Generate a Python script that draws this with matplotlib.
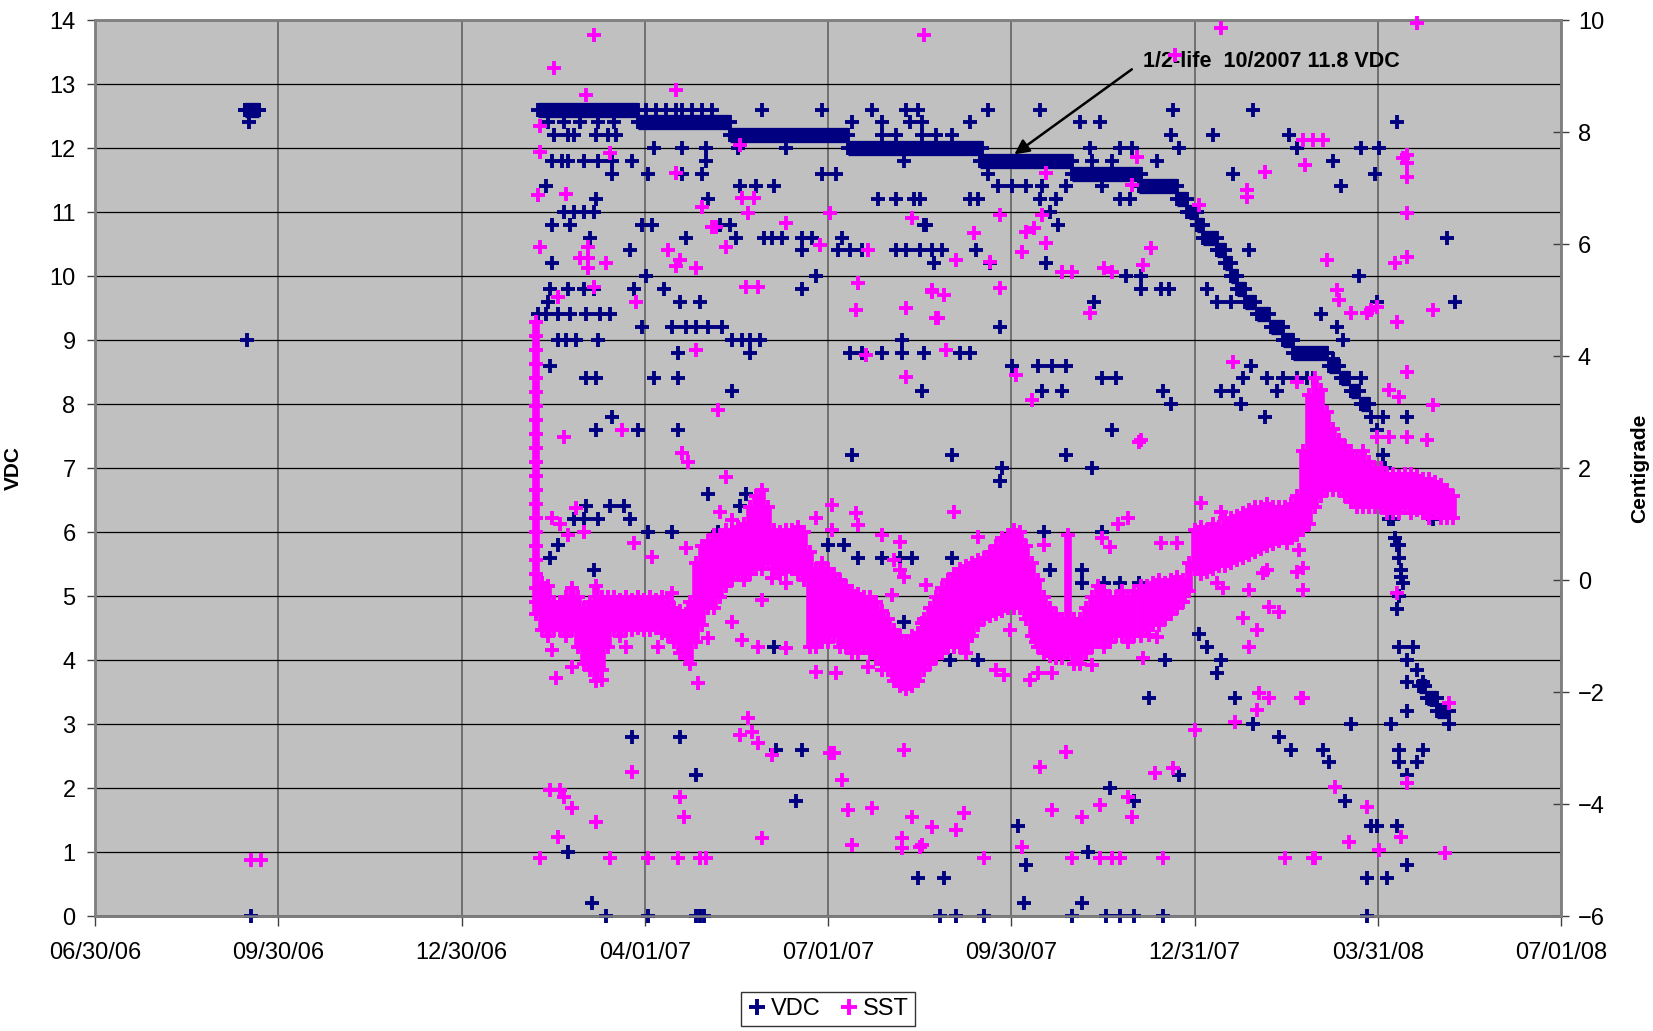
import numpy as np
import matplotlib.pyplot as plt
from matplotlib.lines import Line2D

plt.rcParams['font.family'] = ['Liberation Sans', 'DejaVu Sans']

# x values are days since 06/30/06
tick_days = [0, 91.5, 183, 274.5, 366, 457.5, 549, 640.5, 732]
tick_labels = ['06/30/06', '09/30/06', '12/30/06', '04/01/07', '07/01/07',
               '09/30/07', '12/31/07', '03/31/08', '07/01/08']

# long steady VDC stretches (dense hourly readings): start day, end day, volts
run_start = [75, 221, 271, 317, 376, 442, 488, 521, 540, 546, 550, 553, 560, 564,
             567, 570, 574, 580, 587, 593, 598, 616, 622, 627, 632, 661, 665, 670]
run_end = [82, 271, 317, 376, 443, 488, 522, 540, 545, 550, 553, 560, 564, 567,
           570, 574, 579, 586, 593, 598, 615, 621, 626, 631, 636, 664, 670, 676]
run_vdc = [12.6, 12.6, 12.4, 12.2, 12.0, 11.8, 11.6, 11.4, 11.2, 11.0, 10.8, 10.6, 10.4, 10.2,
           10.0, 9.8, 9.6, 9.4, 9.2, 9.0, 8.8, 8.6, 8.4, 8.2, 8.0, 3.6, 3.4, 3.2]

# scattered VDC readings, grouped by voltage level
vdc_levels = [12.6, 12.4, 12.2, 12.0, 11.8, 11.6, 11.4, 11.2, 11.0, 10.8, 10.6, 10.4,
              10.2, 10.0, 9.8, 9.6, 9.4, 9.2, 9.0, 8.8, 8.6, 8.4, 8.2, 8.0, 7.8, 7.6,
              7.2, 7.0, 6.8, 6.6, 6.4, 6.2, 6.0, 5.8, 5.6, 5.4, 5.2, 4.6, 4.2, 4.0,
              3.4, 3.0, 2.8, 2.6, 2.4, 2.2, 2.0, 1.8, 1.4, 1.0, 0.8, 0.6, 0.2, 0.0]
vdc_level_days = [
    [75, 82, 275, 280, 285, 290, 293, 298, 303, 308, 333, 363, 388, 405, 411, 446, 472, 538, 578],
    [77, 226, 234, 242, 251, 259, 378, 393, 407, 413, 437, 492, 502, 650],
    [229, 236, 239, 250, 256, 260, 393, 400, 413, 420, 428, 537, 558, 596],
    [279, 293, 305, 321, 345, 497, 512, 518, 541, 600, 632, 641],
    [228, 233, 236, 244, 251, 258, 268, 305, 404, 498, 508, 530, 618],
    [258, 276, 293, 303, 363, 370, 446, 568, 639],
    [225, 322, 330, 339, 451, 458, 465, 473, 485, 503, 622],
    [250, 306, 391, 400, 409, 412, 437, 441, 472, 480, 512, 517],
    [234, 239, 244, 249, 477, 545],
    [228, 237, 273, 278, 312, 317, 414, 415, 481, 550],
    [247, 295, 320, 334, 338, 343, 353, 358, 373, 555, 675],
    [267, 353, 371, 377, 383, 400, 405, 412, 418, 423, 440, 560, 576],
    [228, 419, 447, 475, 565],
    [275, 360, 515, 522, 568, 631],
    [227, 236, 244, 249, 269, 284, 353, 522, 532, 536, 555, 572],
    [226, 292, 302, 499, 560, 567, 575, 640, 679],
    [221, 225, 231, 237, 245, 252, 257, 582, 612],
    [273, 288, 295, 300, 306, 313, 452, 590, 620],
    [76, 231, 235, 240, 251, 318, 323, 327, 332, 403, 595, 623],
    [291, 327, 377, 383, 393, 403, 414, 432, 437],
    [227, 458, 471, 478, 485, 577, 618, 620],
    [245, 250, 279, 291, 503, 510, 573, 585, 593, 600, 605, 608, 623, 632],
    [318, 413, 473, 483, 533, 562, 568, 590, 627],
    [537, 572, 608, 632],
    [258, 584, 637, 643, 655],
    [250, 271, 291, 508, 640],
    [378, 428, 485, 643],
    [453, 498],
    [452, 644],
    [306, 325, 646],
    [245, 257, 264, 322, 645],
    [239, 244, 251, 267, 648, 668],
    [276, 288, 311, 474, 503],
    [231, 366, 374, 650],
    [227, 381, 393, 402, 408, 428, 651],
    [249, 477, 493, 652],
    [493, 504, 512, 521, 653],
    [404],
    [339, 555, 651, 658],
    [427, 441, 534, 562, 655],
    [526, 569, 667],
    [578, 627, 647, 676],
    [268, 292, 591],
    [340, 353, 597, 613, 651, 663],
    [616, 651, 660],
    [300, 541, 655],
    [507],
    [350, 519, 624],
    [461, 637, 640, 650],
    [236, 496],
    [465, 655],
    [411, 424, 635, 645],
    [248, 464, 493],
    [78, 255, 276, 300, 302, 304, 422, 430, 444, 488, 505, 512, 519, 533, 635],
]
# readings off the 0.2 V levels (steep fall in spring 2008)
vdc_extra = [(551, 4.4), (560, 3.8), (651, 5.0), (650, 4.8), (660, 3.85), (663, 3.65),
             (670, 3.3), (673, 3.2), (655, 3.65), (655, 3.2), (651, 5.8), (618, 8.7),
             (644, 7.0), (646, 6.2), (649, 5.9), (652, 5.3)]

# dense SST record: day, lower and upper edge of the reading band (Centigrade)
band_day = [220, 223, 226, 229, 232, 235, 238, 241, 244, 247, 250, 253, 256, 259, 262, 265,
            268, 271, 274, 277, 280, 283, 286, 289, 292, 295, 297, 300, 303, 306, 309, 312,
            315, 318, 321, 324, 327, 330, 333, 336, 339, 342, 345, 348, 351, 354, 357, 360,
            363, 366, 369, 372, 375, 378, 381, 384, 387, 390, 393, 396, 399, 402, 405, 408,
            411, 414, 417, 420, 423, 426, 429, 432, 435, 438, 441, 444, 447, 450, 453, 456,
            459, 462, 465, 468, 471, 474, 477, 480, 483, 486, 489, 492, 495, 498, 501, 504,
            507, 510, 513, 516, 519, 522, 525, 528, 531, 534, 537, 540, 543, 546, 549, 552,
            555, 558, 561, 564, 567, 570, 573, 576, 579, 582, 585, 588, 591, 594, 597, 600,
            603, 606, 609, 612, 615, 618, 621, 624, 627, 630, 633, 636, 639, 642, 645, 648,
            651, 654, 657, 660, 663, 666, 669, 672, 675, 678]
band_lo = [-0.6, -0.9, -1.0, -0.9, -0.9, -1.0, -0.9, -1.2, -1.5, -1.6, -1.8, -1.6, -1.2, -0.9, -1.0, -0.9,
           -0.9, -0.85, -0.9, -0.9, -0.85, -0.95, -1.0, -1.1, -1.3, -1.4, -1.5, -1.1, -0.8, -0.5, -0.5, -0.3,
           -0.1, 0.0, 0.1, 0.0, 0.1, 0.2, 0.2, 0.3, 0.2, 0.1, 0.15, 0.2, 0.1, 0.0, -1.2, -1.2,
           -1.1, -1.1, -1.0, -1.2, -1.2, -1.3, -1.3, -1.2, -1.3, -1.4, -1.5, -1.6, -1.8, -1.9, -1.95, -1.9,
           -1.8, -1.6, -1.5, -1.4, -1.3, -1.2, -1.2, -1.2, -1.3, -1.0, -0.8, -0.7, -0.65, -0.6, -0.55, -0.5,
           -0.5, -0.5, -0.7, -1.0, -1.2, -1.3, -1.35, -1.4, -1.4, -1.3, -1.5, -1.5, -1.3, -1.2, -1.1, -1.2,
           -1.1, -1.0, -1.0, -1.1, -1.0, -1.0, -0.9, -0.8, -0.8, -0.7, -0.6, -0.5, -0.4, -0.2, 0.2, 0.1,
           0.15, 0.2, 0.25, 0.25, 0.3, 0.35, 0.4, 0.45, 0.5, 0.55, 0.6, 0.65, 0.7, 0.75, 0.8, 0.8,
           0.9, 1.0, 1.3, 1.5, 1.6, 1.6, 1.6, 1.5, 1.4, 1.3, 1.3, 1.3, 1.3, 1.3, 1.2, 1.2,
           1.2, 1.3, 1.2, 1.25, 1.2, 1.1, 1.2, 1.1, 1.1, 1.1]
band_hi = [4.6, -0.05, -0.1, -0.4, -0.4, -0.3, -0.15, -0.3, -0.5, -0.4, -0.1, -0.3, -0.3, -0.3, -0.35, -0.3,
           -0.35, -0.3, -0.35, -0.3, -0.35, -0.3, -0.4, -0.5, -0.55, -0.6, -0.4, 0.3, 0.6, 0.7, 0.8, 0.8,
           0.9, 0.9, 0.95, 1.0, 1.3, 1.5, 1.6, 1.3, 0.9, 0.85, 0.9, 0.9, 0.95, 0.85, 0.5, 0.2,
           0.3, 0.2, 0.1, 0.0, -0.1, -0.2, -0.25, -0.3, -0.3, -0.4, -0.55, -0.7, -0.9, -1.0, -1.1, -1.0,
           -0.95, -0.7, -0.5, -0.3, -0.15, 0.0, 0.1, 0.2, 0.25, 0.3, 0.35, 0.4, 0.5, 0.6, 0.75, 0.8,
           0.9, 0.85, 0.6, 0.3, 0.0, -0.3, -0.5, -0.6, -0.7, 0.8, -0.7, -0.7, -0.5, -0.3, -0.1, -0.2,
           -0.3, -0.3, -0.2, -0.3, -0.2, -0.1, -0.1, -0.05, 0.0, -0.05, 0.0, 0.05, 0.0, 0.3, 0.9, 0.95,
           0.9, 1.0, 0.95, 1.1, 1.1, 1.15, 1.2, 1.25, 1.3, 1.3, 1.35, 1.3, 1.3, 1.3, 1.35, 1.5,
           2.3, 3.3, 3.6, 3.4, 3.0, 2.7, 2.5, 2.4, 2.3, 2.2, 2.3, 2.1, 2.0, 2.0, 1.9, 1.9,
           1.85, 1.9, 1.9, 1.85, 1.8, 1.8, 1.75, 1.7, 1.6, 1.5]

# stacked SST readings in the first days after deployment (Centigrade, day 220)
start_column = [4.6, 4.35, 4.1, 3.85, 3.6, 3.35, 3.1, 2.85, 2.6, 2.35, 2.1, 1.85,
                1.6, 1.35, 1.1, 0.85, 0.6, 0.35, 0.1, -0.15, -0.4]

# scattered SST readings: (day, Centigrade)
sst_pts = [
    (78, -5.0), (83, -5.0),
    (229, 9.14), (245, 8.66), (290, 8.75), (249, 9.74), (222, 8.1), (222, 7.64), (257, 7.62),
    (290, 7.27), (322, 7.77), (221, 6.87), (235, 6.9), (303, 6.66), (323, 6.82), (329, 6.82),
    (326, 6.55), (308, 6.3), (310, 6.3), (345, 6.37), (367, 6.55), (408, 6.46), (222, 5.95),
    (246, 5.95), (246, 5.75), (246, 5.57), (242, 5.75), (255, 5.66), (286, 5.89), (292, 5.71),
    (290, 5.6), (300, 5.57), (315, 5.95), (362, 5.98), (386, 5.89), (249, 5.23), (231, 5.05),
    (270, 4.96), (325, 5.23), (331, 5.23), (381, 5.3), (380, 4.82), (405, 4.86), (418, 5.14),
    (420, 4.68), (300, 4.11), (385, 4.02), (405, 3.63), (311, 3.04), (234, 2.55), (263, 2.68),
    (293, 2.27), (296, 2.11), (315, 1.84), (414, 9.74),
    (240, 1.29), (228, 1.1), (232, 1.0), (312, 1.21), (318, 1.07), (327, 1.3), (269, 0.66),
    (295, 0.57), (278, 0.41), (236, 0.8), (244, 0.86), (288, -0.23), (368, 1.34), (360, 1.1),
    (368, 0.89), (380, 1.2), (381, 0.98), (393, 0.8), (402, 0.68), (399, 0.36), (402, 0.18),
    (404, 0.05), (415, -0.09), (398, -0.27), (413, -0.77), (338, 0.04), (345, -0.05),
    (333, -0.36), (318, -0.75), (323, -1.07), (331, -1.2), (345, -1.21), (306, -1.04),
    (265, -1.2), (281, -1.2), (301, -1.84), (230, -1.75), (253, -1.79), (238, -1.55),
    (228, -1.25), (360, -1.64), (370, -1.66), (386, -1.55), (393, -1.6), (400, -1.7),
    (326, -2.46), (328, -2.71), (322, -2.77), (331, -2.91), (338, -3.13), (367, -3.09),
    (369, -3.09), (373, -3.57), (376, -4.11), (388, -4.07), (408, -4.23), (404, -3.04),
    (418, -4.41), (403, -4.6), (412, -4.77), (403, -4.79), (378, -4.73), (268, -3.43),
    (227, -3.75), (232, -3.75), (234, -3.88), (238, -4.07), (250, -4.32), (292, -3.88),
    (294, -4.23), (231, -4.59), (333, -4.61), (222, -4.96), (257, -4.96), (276, -4.96),
    (291, -4.96), (302, -4.96), (305, -4.96),
    (521, 2.46), (429, 1.21), (516, 1.1), (511, 1.0), (441, 0.77), (454, 0.71), (462, 0.86),
    (462, 0.71), (474, 0.62), (503, 0.75), (507, 0.59), (552, 1.38), (562, 1.21), (532, 0.66),
    (540, 0.66), (598, 0.8), (595, 0.66), (601, 0.54), (603, 0.21), (600, 0.14), (603, -0.18),
    (585, 0.18), (583, 0.12), (576, -0.18), (586, -0.48), (591, -0.57), (560, -0.05),
    (563, -0.14), (573, -0.68), (580, -0.89), (576, -1.2), (457, -0.89), (470, -1.1),
    (526, -0.98), (530, -1.02), (523, -1.39), (498, -1.52), (450, -1.6), (454, -1.7),
    (467, -1.79), (471, -1.66), (478, -1.66), (581, -2.02), (586, -2.11), (602, -2.11),
    (580, -2.32), (569, -2.54), (549, -2.68), (485, -3.07), (472, -3.34), (529, -3.45),
    (538, -3.36), (502, -4.02), (493, -4.23), (478, -4.11), (516, -3.88), (518, -4.23),
    (434, -4.16), (430, -4.46), (413, -4.73), (463, -4.77), (444, -4.96), (488, -4.96),
    (502, -4.96), (508, -4.96), (512, -4.96), (533, -4.96), (594, -4.96), (608, -4.96),
    (452, 6.52), (439, 6.2), (430, 5.71), (447, 5.68), (452, 5.21), (418, 5.18), (424, 5.09),
    (421, 4.68), (425, 4.11), (465, 6.21), (469, 6.29), (473, 6.52), (475, 6.02), (463, 5.86),
    (483, 5.5), (488, 5.5), (475, 7.27), (460, 3.66), (468, 3.21), (497, 4.77), (504, 5.57),
    (508, 5.5), (523, 5.63), (527, 5.93), (520, 7.55), (518, 7.05), (551, 6.7), (522, 2.5),
    (568, 3.89), (575, 6.96), (575, 6.84), (584, 7.29), (604, 7.41), (615, 5.71), (600, 3.54),
    (539, 9.38), (562, 9.85), (660, 9.94),
    (603, 7.86), (608, 7.86), (613, 7.86), (655, 7.59), (655, 7.45), (655, 7.2), (655, 6.55),
    (649, 5.66), (655, 5.77), (620, 5.18), (621, 5.0), (627, 4.77), (635, 4.77), (637, 4.82),
    (640, 4.88), (650, 4.61), (668, 4.82), (655, 3.71), (646, 3.39), (651, 3.27), (668, 3.13),
    (665, 2.5), (655, 2.55), (640, 2.55), (646, 2.55), (650, -0.23), (676, -2.2),
    (655, -3.63), (619, -3.7), (635, -4.05), (652, -4.59), (626, -4.68), (641, -4.82),
    (674, -4.88), (609, -4.96), (603, -2.11), (653, 7.53),
]

navy = '#000080'
magenta = '#FF00FF'
mk = dict(ls='none', marker='+', ms=10, mew=2.8, clip_on=False, zorder=3)

fig = plt.figure(figsize=(16.53, 10.31), dpi=100)
ax = fig.add_axes([0.0575, 0.1115, 0.8869, 0.8691])
ax.set_facecolor('#C0C0C0')
ax2 = ax.twinx()

# VDC
ax.hlines(run_vdc, run_start, run_end, color=navy, lw=11, zorder=3)
ax.plot(run_start + run_end, run_vdc + run_vdc, color=navy, **mk)
vdc_day = []
vdc_val = []
for lev, days in zip(vdc_levels, vdc_level_days):
    vdc_day += days
    vdc_val += [lev] * len(days)
for d, v in vdc_extra:
    vdc_day.append(d)
    vdc_val.append(v)
ax.plot(vdc_day, vdc_val, color=navy, **mk)

# SST
ax2.vlines(band_day, band_lo, band_hi, color=magenta, lw=5.5, zorder=3)
ax2.plot(band_day + band_day, band_lo + band_hi, color=magenta, **mk)
ax2.plot([220] * len(start_column), start_column, color=magenta, **mk)
sst_day = [p[0] for p in sst_pts]
sst_val = [p[1] for p in sst_pts]
ax2.plot(sst_day, sst_val, color=magenta, **mk)

ax.set_xlim(0, 732)
ax.set_ylim(0, 14)
ax2.set_ylim(-6, 10)
ax.set_xticks(tick_days)
ax.set_xticklabels(tick_labels)
ax.set_yticks(range(0, 15))
ax2.set_yticks(range(-6, 11, 2))

ax.set_axisbelow(True)
ax.yaxis.grid(True, color='black', lw=0.9)
ax.xaxis.grid(True, color='#6a6a6a', lw=1.3)

for a in (ax, ax2):
    for s in a.spines.values():
        s.set_color('#808080')
        s.set_linewidth(1.8)
ax.spines['bottom'].set_color('#404040')

ax.tick_params(axis='y', direction='out', length=6, width=1, color='#404040',
               labelsize=17, pad=8)
ax.tick_params(axis='x', direction='out', length=7, width=1, color='#404040',
               labelsize=17, pad=12)
ax2.tick_params(axis='y', direction='inout', length=12, width=1, color='#404040',
                labelsize=17, pad=6)

ax.set_ylabel('VDC', fontsize=15, fontweight='bold')
ax.yaxis.set_label_coords(-0.049, 0.5)
ax2.set_ylabel('Centigrade', fontsize=15, fontweight='bold')
ax2.yaxis.set_label_coords(1.047, 0.5)

ax.annotate('1/2-life  10/2007 11.8 VDC', xy=(459, 11.9), xytext=(523, 13.35),
            ha='left', va='center', fontsize=15.5, fontweight='bold', zorder=6,
            arrowprops=dict(arrowstyle='-|>', color='black', lw=1.8, mutation_scale=22,
                            relpos=(0, 0.5), shrinkA=7, shrinkB=0))
ax.set_zorder(ax2.get_zorder() - 1)
ax2.patch.set_visible(False)
ax.patch.set_visible(True)

handles = [Line2D([], [], ls='none', marker='+', ms=11, mew=2.8, color=navy),
           Line2D([], [], ls='none', marker='+', ms=11, mew=2.8, color=magenta)]
leg = fig.legend(handles, ['VDC', 'SST'], loc='lower center', bbox_to_anchor=(0.501, 0.0),
                 ncol=2, fontsize=17, frameon=True, fancybox=False, handlelength=0.8,
                 handletextpad=0.2, columnspacing=0.8, borderpad=0.25, borderaxespad=0.2)
leg.get_frame().set_edgecolor('black')
leg.get_frame().set_linewidth(1.0)

fig.savefig('out.png', dpi=100)
